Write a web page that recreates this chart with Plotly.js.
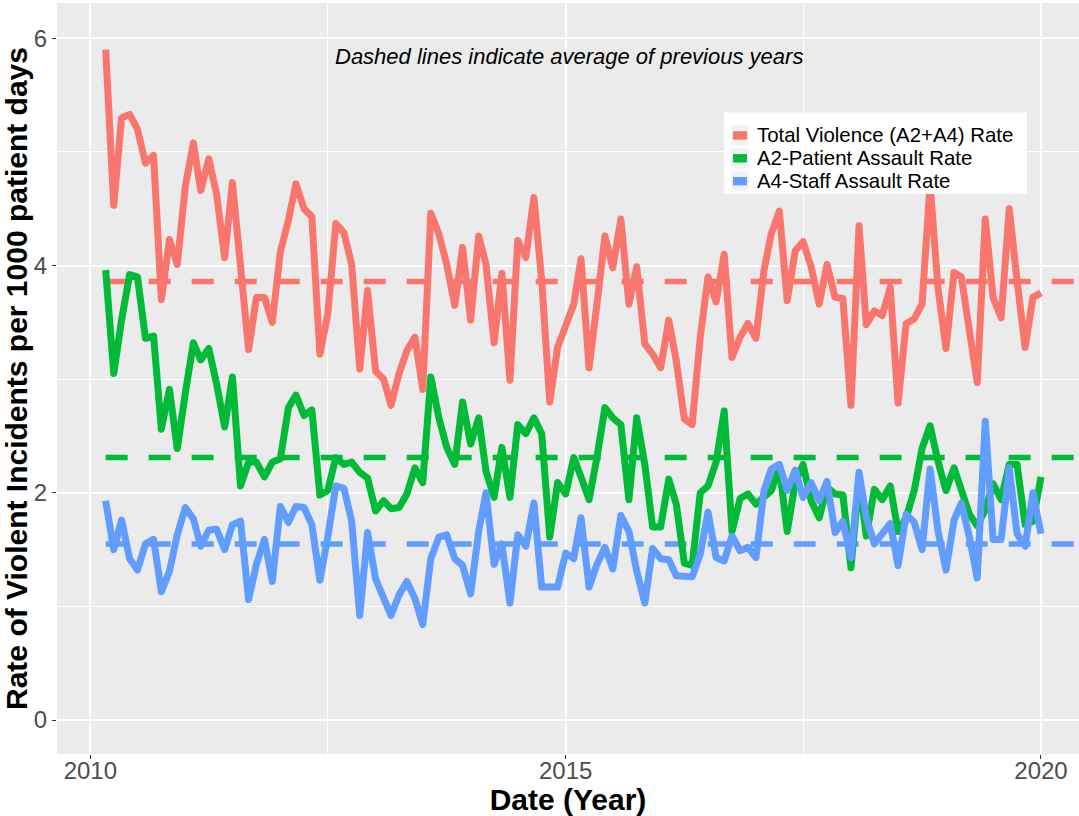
<!DOCTYPE html>
<html>
<head>
<meta charset="utf-8">
<script src="https://cdn.plot.ly/plotly-3.0.1.min.js"></script>
<style>
  html, body { margin: 0; padding: 0; background: #ffffff; }
  #chart { width: 1079px; height: 816px; }
  .scatterlayer .js-line { stroke-linejoin: round; }
</style>
</head>
<body>
<div id="chart"></div>
<script>
// ---------------- DATA ----------------
const seriesNames = ["Total Violence (A2+A4) Rate", "A2-Patient Assault Rate", "A4-Staff Assault Rate"];
const seriesColors = ["#F8766D", "#00BA38", "#619CFF"];

// Monthly rates, March 2010 .. January 2020
const startYear = 2010;
const startMonth = 3;

const totalViolence = [
  5.90, 4.53, 5.30, 5.33, 5.20, 4.90, 4.97, 3.70, 4.23, 4.01,
  4.70, 5.08, 4.66, 4.94, 4.63, 4.07, 4.73, 3.95, 3.26, 3.72,
  3.72, 3.50, 4.12, 4.40, 4.72, 4.50, 4.43, 3.22, 3.57, 4.37,
  4.29, 4.01, 3.09, 3.78, 3.07, 3.00, 2.77, 3.05, 3.25, 3.37,
  2.91, 4.46, 4.28, 4.01, 3.65, 4.16, 3.52, 4.26, 4.01, 3.32,
  3.93, 2.99, 4.22, 4.07, 4.60, 3.87, 2.80, 3.28, 3.46, 3.66,
  4.06, 3.10, 3.66, 4.26, 3.98, 4.41, 3.66, 3.99, 3.31, 3.22,
  3.10, 3.52, 3.16, 2.65, 2.60, 3.37, 3.90, 3.68, 4.10, 3.19,
  3.37, 3.49, 3.36, 3.96, 4.28, 4.48, 3.69, 4.13, 4.21, 3.99,
  3.66, 4.01, 3.72, 3.71, 2.77, 4.35, 3.48, 3.60, 3.56, 3.81,
  2.79, 3.49, 3.53, 3.66, 4.72, 3.81, 3.27, 3.94, 3.90, 3.45,
  2.97, 4.41, 3.72, 3.54, 4.50, 3.87, 3.28, 3.72, 3.76
];

const patientAssault = [
  3.96, 3.05, 3.52, 3.92, 3.90, 3.36, 3.38, 2.56, 2.91, 2.39,
  2.88, 3.32, 3.17, 3.27, 2.96, 2.58, 3.02, 2.06, 2.27, 2.27,
  2.14, 2.27, 2.30, 2.75, 2.86, 2.68, 2.73, 1.98, 2.02, 2.31,
  2.25, 2.27, 2.18, 2.13, 1.84, 1.93, 1.86, 1.87, 1.99, 2.22,
  2.09, 3.02, 2.66, 2.40, 2.25, 2.80, 2.43, 2.66, 2.19, 1.96,
  2.40, 1.96, 2.60, 2.52, 2.66, 2.52, 1.61, 2.09, 1.99, 2.31,
  2.14, 1.94, 2.31, 2.75, 2.66, 2.60, 1.94, 2.66, 2.25, 1.70,
  1.70, 2.12, 1.90, 1.38, 1.36, 2.00, 2.06, 2.27, 2.72, 1.66,
  1.95, 1.99, 1.90, 1.96, 2.02, 2.22, 1.66, 2.09, 2.25, 1.93,
  1.78, 2.05, 1.99, 1.98, 1.34, 2.12, 1.62, 2.03, 1.94, 2.06,
  1.66, 1.78, 2.02, 2.39, 2.59, 2.28, 2.02, 2.22, 2.02, 1.81,
  1.71, 1.85, 2.08, 1.94, 2.25, 2.25, 1.72, 1.75, 2.14
];

const staffAssault = [
  1.93, 1.50, 1.76, 1.42, 1.32, 1.55, 1.59, 1.13, 1.31, 1.63,
  1.87, 1.77, 1.53, 1.67, 1.68, 1.50, 1.72, 1.75, 1.06, 1.37,
  1.59, 1.22, 1.88, 1.74, 1.88, 1.87, 1.72, 1.23, 1.61, 2.06,
  2.04, 1.75, 0.92, 1.65, 1.24, 1.07, 0.92, 1.10, 1.22, 1.07,
  0.84, 1.42, 1.61, 1.63, 1.42, 1.36, 1.11, 1.66, 2.00, 1.37,
  1.55, 1.03, 1.63, 1.53, 1.91, 1.17, 1.17, 1.17, 1.47, 1.42,
  1.78, 1.17, 1.37, 1.52, 1.33, 1.80, 1.66, 1.31, 1.03, 1.51,
  1.42, 1.41, 1.27, 1.27, 1.26, 1.46, 1.83, 1.43, 1.40, 1.62,
  1.49, 1.52, 1.43, 2.02, 2.21, 2.25, 2.02, 2.20, 1.96, 2.09,
  1.93, 2.10, 1.65, 1.75, 1.43, 2.18, 1.78, 1.55, 1.64, 1.73,
  1.36, 1.81, 1.74, 1.50, 2.21, 1.67, 1.32, 1.76, 1.91, 1.61,
  1.25, 2.63, 1.59, 1.59, 2.22, 1.64, 1.53, 2.00, 1.64
];

// Averages of previous years (dashed lines)
const avgTotal = 3.86;
const avgPatient = 2.31;
const avgStaff = 1.55;

const xTickVals = ["2010-01-01", "2015-01-01", "2020-01-01"];
const xTickText = ["2010", "2015", "2020"];
const xMinorVals = ["2012-07-01", "2017-07-01"];
const yTickVals = [0, 2, 4, 6];

const noteText = "Dashed lines indicate average of previous years";
const xTitle = "Date (Year)";
const yTitle = "Rate of Violent Incidents per 1000 patient days";

// ---------------- BUILD ----------------
function pad(n) { return n < 10 ? "0" + n : "" + n; }
const months = totalViolence.map(function (_, i) {
  const m0 = startMonth - 1 + i;
  const y = startYear + Math.floor(m0 / 12);
  const m = (m0 % 12) + 1;
  return y + "-" + pad(m) + "-01";
});
const avgEnd = "2020-12-01";

const seriesValues = [totalViolence, patientAssault, staffAssault];
const averages = [avgTotal, avgPatient, avgStaff];

const traces = [];
for (let k = 0; k < 3; k++) {
  traces.push({
    type: "scatter", mode: "lines",
    x: [months[0], avgEnd], y: [averages[k], averages[k]],
    line: { color: seriesColors[k], width: 5.5, dash: "22px,21px" },
    hoverinfo: "skip", showlegend: false
  });
}
for (let k = 0; k < 3; k++) {
  traces.push({
    type: "scatter", mode: "lines", name: seriesNames[k],
    x: months, y: seriesValues[k],
    line: { color: seriesColors[k], width: 7 },
    showlegend: false
  });
}

// plot area in pixels
const L = 57, R = 1079, T = 3, B = 754;
function px(xp) { return (xp - L) / (R - L); }
function py(yp) { return (B - yp) / (B - T); }

const FONT = "Liberation Sans, Arial, sans-serif";
const shapes = [];
const annotations = [];

// custom ggplot-like legend
shapes.push({ type: "rect", xref: "paper", yref: "paper",
  x0: px(724), x1: px(1027), y0: py(194), y1: py(112.5),
  fillcolor: "#ffffff", line: { width: 0 }, layer: "above" });
const rowY = [135.4, 158.3, 181.2];
for (let k = 0; k < 3; k++) {
  shapes.push({ type: "rect", xref: "paper", yref: "paper",
    x0: px(731), x1: px(749), y0: py(rowY[k] + 10.5), y1: py(rowY[k] - 10.5),
    fillcolor: "#F2F2F2", line: { color: "#ffffff", width: 0.8 }, layer: "above" });
  shapes.push({ type: "rect", xref: "paper", yref: "paper",
    x0: px(733), x1: px(747), y0: py(rowY[k] + 4.2), y1: py(rowY[k] - 4.2),
    fillcolor: seriesColors[k], line: { width: 0 }, layer: "above" });
  annotations.push({ xref: "paper", yref: "paper", x: px(756), y: py(rowY[k]),
    xanchor: "left", yanchor: "middle", showarrow: false, borderpad: 0,
    text: seriesNames[k], font: { family: FONT, size: 20.4, color: "#000000" } });
}

annotations.push({ xref: "paper", yref: "paper", x: px(568.5), y: py(57),
  xanchor: "center", yanchor: "middle", showarrow: false,
  text: "<i>" + noteText + "</i>", font: { family: FONT, size: 22, color: "#000000" } });

const layout = {
  width: 1079, height: 816,
  margin: { l: L, r: 1079 - R, t: T, b: 816 - B, pad: 0 },
  paper_bgcolor: "#ffffff",
  plot_bgcolor: "#EBEBEB",
  showlegend: false,
  font: { family: FONT, color: "#4D4D4D" },
  xaxis: {
    type: "date",
    range: ["2009-08-26", "2020-05-26"],
    tickmode: "array", tickvals: xTickVals, ticktext: xTickText,
    tickfont: { family: FONT, size: 24, color: "#4D4D4D" },
    ticks: "outside", ticklen: 4, tickwidth: 1, tickcolor: "#333333",
    ticklabelstandoff: -9,
    showgrid: true, gridcolor: "#ffffff", gridwidth: 2,
    minor: { tickmode: "array", tickvals: xMinorVals, showgrid: true, gridcolor: "#ffffff", gridwidth: 1, ticks: "" },
    showline: false, zeroline: false, automargin: false,
    title: { text: "<b>" + xTitle + "</b>", font: { family: FONT, size: 30, color: "#000000" }, standoff: 10 }
  },
  yaxis: {
    range: [-0.299, 6.311],
    tickmode: "array", tickvals: yTickVals,
    tickfont: { family: FONT, size: 24, color: "#4D4D4D" },
    ticks: "outside", ticklen: 4, tickwidth: 1, tickcolor: "#333333",
    showgrid: true, gridcolor: "#ffffff", gridwidth: 2,
    minor: { dtick: 1, showgrid: true, gridcolor: "#ffffff", gridwidth: 1, ticks: "" },
    showline: false, zeroline: false, automargin: false,
    title: { text: "<b>" + yTitle + "</b>", font: { family: FONT, size: 30, color: "#000000" }, standoff: 0 }
  },
  shapes: shapes,
  annotations: annotations
};

Plotly.newPlot("chart", traces, layout, { displayModeBar: false, staticPlot: true });
</script>
</body>
</html>
